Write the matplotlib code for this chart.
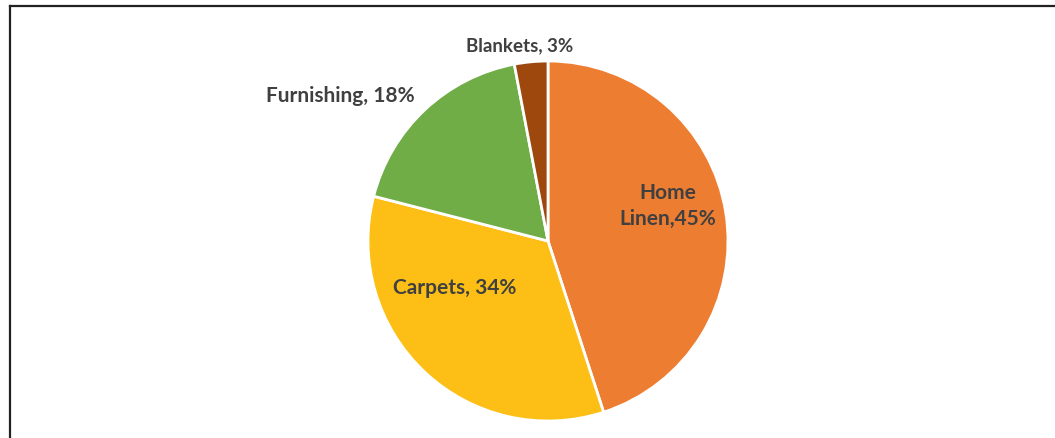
import matplotlib
matplotlib.use('Agg')
import matplotlib.pyplot as plt
from matplotlib.lines import Line2D

# 数据
categories = ['Home\nLinen', 'Carpets', 'Furnishing', 'Blankets']
shares = [45, 34, 18, 3]
colors = ['#ED7D31', '#FDBF15', '#70AD47', '#9E480E']

plt.rcParams['font.family'] = ['Lato', 'DejaVu Sans']

W, H = 1055, 439
fig = plt.figure(figsize=(W / 100, H / 100), dpi=100)
fig.patch.set_facecolor('white')

# 饼图所在区域 (像素 -> 比例)
cx, cy, r = 548, 242, 180
ax = fig.add_axes([(cx - r) / W, (H - cy - r) / H, 2 * r / W, 2 * r / H])
wedges, _ = ax.pie(shares, colors=colors, startangle=90, counterclock=False,
                   radius=1, wedgeprops=dict(edgecolor='white', linewidth=2))
ax.set_xlim(-1, 1)
ax.set_ylim(-1, 1)
ax.set_aspect('equal')
ax.axis('off')

# 标签位置 (以半径为单位) 和字号
label_pos = [(0.667, 0.20), (-0.517, -0.256), (-1.156, 0.81), (-0.156, 1.09)]
label_size = [15, 15, 15, 13.5]
for name, val, (x, y), fs in zip(categories, shares, label_pos, label_size):
    if '\n' in name:
        txt = name + ',' + str(val) + '%'
    else:
        txt = name + ', ' + str(val) + '%'
    ax.text(x, y, txt, ha='center', va='center', fontsize=fs, fontweight='bold',
            color='#404040', linespacing=1.35, clip_on=False)

# 外框 (上边和左边)
fig.add_artist(Line2D([9.5 / W, 1], [1 - 7 / H, 1 - 7 / H], color='#222222', lw=1.6,
                      transform=fig.transFigure))
fig.add_artist(Line2D([9.5 / W, 9.5 / W], [0, 1 - 7 / H], color='#222222', lw=1.6,
                      transform=fig.transFigure))

fig.savefig('out.png', dpi=100)
